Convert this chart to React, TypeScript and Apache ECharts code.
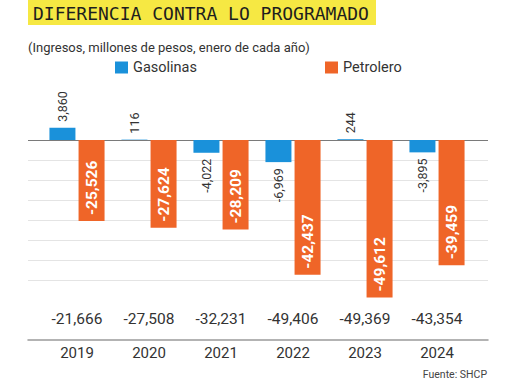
import React, { useEffect, useRef } from "react";
import * as echarts from "echarts";

const years = ["2019", "2020", "2021", "2022", "2023", "2024"];
const gasolinas = [3860, 116, -4022, -6969, 244, -3895];
const petrolero = [-25526, -27624, -28209, -42437, -49612, -39459];
const totales = [-21666, -27508, -32231, -49406, -49369, -43354];

const TITLE = "DIFERENCIA CONTRA LO PROGRAMADO";
const SUBTITLE = "(Ingresos, millones de pesos, enero de cada año)";
const SOURCE = "Fuente: SHCP";

const BLUE = "#1a91da";
const ORANGE = "#ef6528";
const FONT = "Roboto, 'Liberation Sans', sans-serif";
const fmt = (v: number) => v.toLocaleString("en-US");

const Y_MIN = -63000;
const Y_MAX = 12600;
const Y_INT = 6300;

export default function App() {
  const ref = useRef<HTMLDivElement>(null);
  useEffect(() => {
    if (!ref.current) return;
    const chart = echarts.init(ref.current, null, { renderer: "svg" });
    const T = "transparent";
    const G = "#e4e4e4";
    const splitColors = [T, T, T, G, G, G, G, G, G, G, "#7a7a7a", T, T];
    chart.setOption({
      animation: false,
      backgroundColor: "#ffffff",
      graphic: [
        { type: "rect", left: 28, top: 0, shape: { width: 348, height: 25 }, style: { fill: "#f6e843" }, z: 0 },
        {
          type: "text", left: 33, top: 4,
          style: { text: TITLE, font: "18px 'DejaVu Sans Mono', monospace", fill: "#1e1e1e" }, z: 1,
        },
        {
          type: "text", left: 28, top: 41,
          style: { text: SUBTITLE, font: `13px ${FONT}`, fill: "#333" },
        },
        {
          type: "text", right: 25, top: 369,
          style: { text: SOURCE, font: `10.5px ${FONT}`, fill: "#444" },
        },
      ],
      legend: [
        {
          data: ["Gasolinas"], left: 110, top: 55, itemWidth: 13, itemHeight: 12, icon: "rect",
          textStyle: { fontSize: 14.5, color: "#333", fontFamily: FONT },
        },
        {
          data: ["Petrolero"], left: 320, top: 55, itemWidth: 13, itemHeight: 12, icon: "rect",
          textStyle: { fontSize: 14.5, color: "#333", fontFamily: FONT },
        },
      ],
      grid: [
        { left: 28, right: 24, top: 100, bottom: 44 },
        { left: 41, right: 39, top: 100, bottom: 44 },
      ],
      xAxis: [
        {
          type: "category", gridIndex: 0, data: years, position: "bottom",
          axisLine: { show: true, onZero: false, lineStyle: { color: "#9a9a9a", width: 1.5 } },
          axisTick: { show: false }, axisLabel: { show: false }, splitLine: { show: false },
        },
        {
          type: "category", gridIndex: 1, data: years, position: "bottom",
          axisLine: { show: false }, axisTick: { show: false }, splitLine: { show: false },
          axisLabel: {
            interval: 0, margin: -31,
            formatter: (v: string, i: number) => `{t|${fmt(totales[i])}}\n{y|${v}}`,
            rich: {
              t: { fontSize: 15.5, lineHeight: 20, color: "#333", fontFamily: FONT },
              y: { fontSize: 15, lineHeight: 48, color: "#333", fontFamily: FONT },
            },
          },
        },
      ],
      yAxis: [
        {
          type: "value", gridIndex: 0, min: Y_MIN, max: Y_MAX, interval: Y_INT,
          axisLine: { show: false }, axisTick: { show: false }, axisLabel: { show: false },
          splitLine: { show: true, lineStyle: { color: splitColors, width: 1 } },
        },
        {
          type: "value", gridIndex: 1, min: Y_MIN, max: Y_MAX, interval: Y_INT,
          axisLine: { show: false }, axisTick: { show: false }, axisLabel: { show: false },
          splitLine: { show: false },
        },
      ],
      series: [
        {
          name: "Gasolinas", type: "bar", xAxisIndex: 1, yAxisIndex: 1,
          barWidth: 26, barGap: "12%", itemStyle: { color: BLUE },
          data: gasolinas.map((v) => ({
            value: v,
            label: { align: v >= 0 ? "left" : "right" },
          })),
          label: {
            show: true, position: "outside", rotate: 90, distance: 6, verticalAlign: "middle",
            color: "#333", fontSize: 12.5, fontFamily: FONT,
            formatter: (p: any) => fmt(p.value),
          },
        },
        {
          name: "Petrolero", type: "bar", xAxisIndex: 1, yAxisIndex: 1,
          barWidth: 26, itemStyle: { color: ORANGE },
          data: petrolero,
          label: {
            show: true, position: "insideBottom", rotate: 90, distance: 6,
            align: "left", verticalAlign: "middle",
            color: "#fff", fontSize: 15.5, fontWeight: "bold", fontFamily: FONT,
            formatter: (p: any) => fmt(p.value),
          },
        },
      ],
    });
    return () => chart.dispose();
  }, []);
  return (
    <div
      ref={ref}
      style={{ position: "fixed", left: 0, top: 0, width: 512, height: 384 }}
    />
  );
}
